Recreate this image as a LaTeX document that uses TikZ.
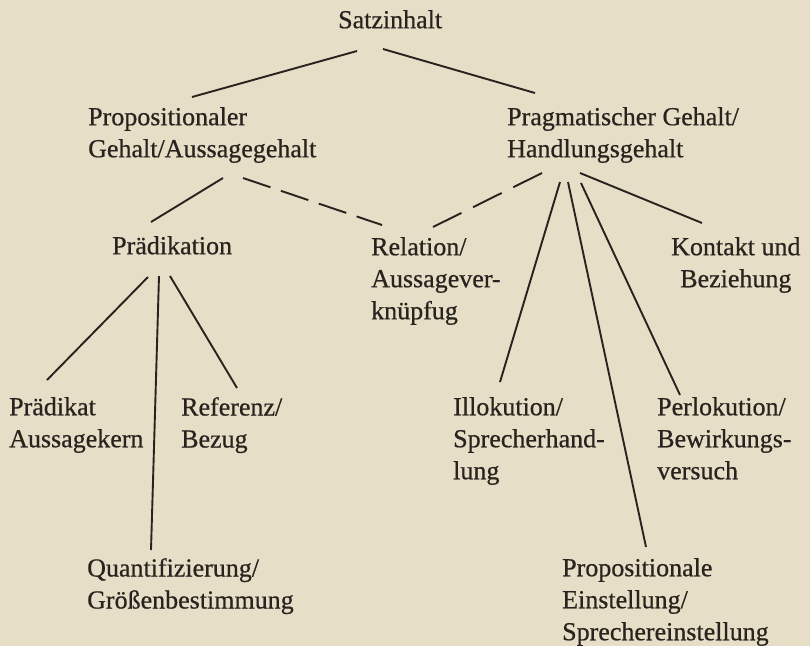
\documentclass[tikz,border=0pt]{standalone}
\usepackage{fontspec}
\setmainfont[FakeBold=0.6,AutoFakeBold=0.6]{Liberation Serif}
\usepackage{tikz}

\definecolor{paper}{RGB}{230,222,198}
\definecolor{ink}{RGB}{40,35,30}

\begin{document}
\begin{tikzpicture}[x=1pt,y=-1pt,
  lbl/.style={anchor=north west, inner sep=0pt, align=left, text=ink,
    font=\fontsize{26}{32}\selectfont\bfseries},
  link/.style={draw=ink, line width=1.9pt},
  weak/.style={link, dash pattern=on 29pt off 11pt}]

  % Paper background, also fixes the size
  \fill[paper] (0,0) rectangle (810,646);
  \useasboundingbox (0,0) rectangle (810,646);

  % Top and second level
  \node[lbl] (satz) at (338,10) {Satzinhalt};
  \node[lbl] (prop) at (88,107) {Propositionaler\\Gehalt/Aussagegehalt};
  \node[lbl] (prag) at (507,107) {Pragmatischer Gehalt/\\Handlungsgehalt};

  % Third level
  \node[lbl] (praed) at (112,236) {Prädikation};
  \node[lbl] (rel) at (371,237) {Relation/\\Aussagever-\\knüpfug};
  \node[lbl, align=center] (kont) at (671,237) {Kontakt und\\Beziehung};

  % Leaves
  \node[lbl] (praedikat) at (9,397) {Prädikat\\Aussagekern};
  \node[lbl] (ref) at (181,397) {Referenz/\\Bezug};
  \node[lbl] (quant) at (87,558) {Quantifizierung/\\Größenbestimmung};
  \node[lbl] (illok) at (453,397) {Illokution/\\Sprecherhand-\\lung};
  \node[lbl] (perlok) at (657,397) {Perlokution/\\Bewirkungs-\\versuch};
  \node[lbl] (propein) at (562,558) {Propositionale\\Einstellung/\\Sprechereinstellung};

  % Lines from Satzinhalt
  \draw[link] ([shift={(19,41)}]satz.north west) -- ([shift={(104,-10)}]prop.north west);
  \draw[link] ([shift={(45,39)}]satz.north west) -- ([shift={(28,-14)}]prag.north west);

  % Propositional side
  \draw[link] ([shift={(135,71)}]prop.north west) -- ([shift={(39,-14)}]praed.north west);
  \draw[weak] ([shift={(155,71)}]prop.north west) -- ([shift={(11,-12)}]rel.north west);
  \draw[weak, dash pattern=on 32pt off 13pt] ([shift={(35,66)}]prag.north west) -- ([shift={(62,-10)}]rel.north west);

  % Under Prädikation
  \draw[link] ([shift={(36,41)}]praed.north west) -- ([shift={(38,-17)}]praedikat.north west);
  \draw[link] ([shift={(47,40)}]praed.north west) -- ([shift={(64,-8)}]quant.north west);
  \draw[link] ([shift={(58,40)}]praed.north west) -- ([shift={(56,-9)}]ref.north west);

  % Pragmatic side
  \draw[link] ([shift={(53,75)}]prag.north west) -- ([shift={(47,-15)}]illok.north west);
  \draw[link] ([shift={(61,75)}]prag.north west) -- ([shift={(84,-11)}]propein.north west);
  \draw[link] ([shift={(74,76)}]prag.north west) -- ([shift={(23,-2)}]perlok.north west);
  \draw[link] ([shift={(73,66)}]prag.north west) -- ([shift={(31,-14)}]kont.north west);

\end{tikzpicture}
\end{document}
